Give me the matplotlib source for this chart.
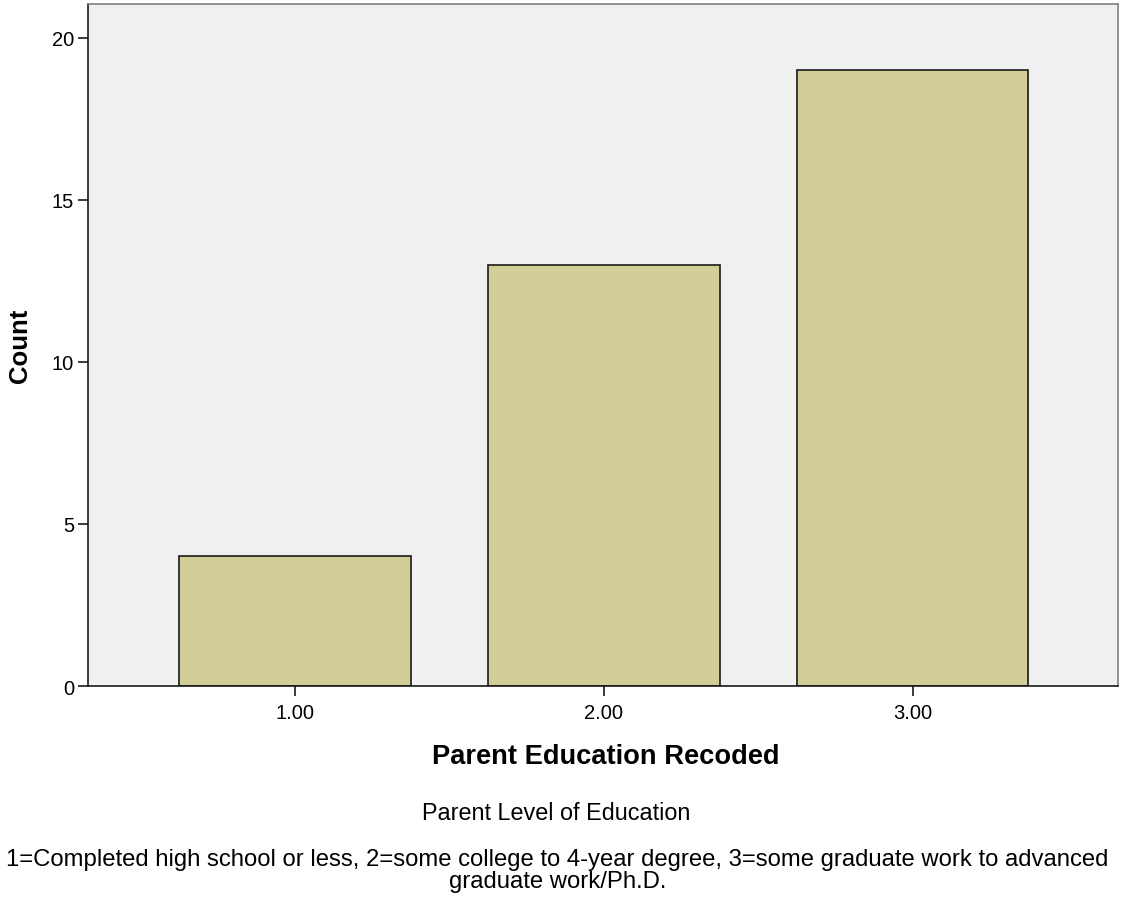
import matplotlib
matplotlib.use('Agg')
import matplotlib.pyplot as plt

categories = [1, 2, 3]
tick_labels = ['1.00', '2.00', '3.00']
counts = [4, 13, 19]
y_ticks = [0, 5, 10, 15, 20]

plt.rcParams['font.family'] = ['Liberation Sans', 'DejaVu Sans']

fig = plt.figure(figsize=(11.23, 9.03), dpi=100)
ax = fig.add_axes([0.0784, 0.2392, 0.9171, 0.7553])
ax.set_facecolor('#f0f0f0')

ax.bar(categories, counts, width=0.75, color='#d3ce98', edgecolor='#1a1a1a', linewidth=1.2, zorder=2)

ax.set_xlim(0.33, 3.665)
ax.set_ylim(0, 21.05)
ax.set_xticks(categories)
ax.set_xticklabels(tick_labels)
ax.set_yticks(y_ticks)
ax.tick_params(direction='out', length=7, width=1.2, labelsize=14.5, color='#1a1a1a')
ax.tick_params(axis='x', pad=5)
ax.tick_params(axis='y', pad=3)

ax.spines['left'].set_color('#1a1a1a')
ax.spines['bottom'].set_color('#1a1a1a')
ax.spines['top'].set_color('#808080')
ax.spines['right'].set_color('#808080')
for s in ax.spines.values():
    s.set_linewidth(1.2)

ax.set_ylabel('Count', fontsize=18.5, fontweight='bold', labelpad=14)

fig.text(0.5396, 1 - 757 / 903, 'Parent Education Recoded', fontsize=19.6, fontweight='bold',
         ha='center', va='center')
fig.text(0.4956, 1 - 814 / 903, 'Parent Level of Education', fontsize=16.8, ha='center', va='center')
fig.text(0.4964, 1 - 871 / 903,
         '1=Completed high school or less, 2=some college to 4-year degree, 3=some graduate work to advanced\ngraduate work/Ph.D.',
         fontsize=17.2, ha='center', va='center', linespacing=0.95)

plt.savefig('out.png', dpi=100)
